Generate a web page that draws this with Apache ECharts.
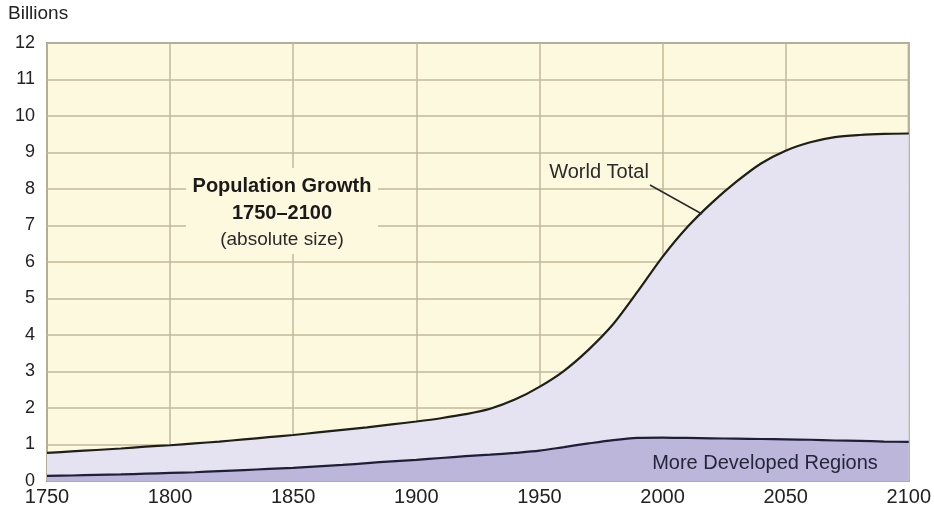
<!DOCTYPE html>
<html>
<head>
<meta charset="utf-8">
<script src="https://cdn.jsdelivr.net/npm/echarts@6/dist/echarts.min.js"></script>
<style>
  html, body { margin: 0; padding: 0; background: #fff; }
  #chart { width: 934px; height: 516px; }
</style>
</head>
<body>
<div id="chart"></div>
<script>
  // population in billions, every 10 years
  var years = [1750, 1760, 1770, 1780, 1790, 1800, 1810, 1820, 1830, 1840, 1850, 1860, 1870, 1880, 1890, 1900, 1910, 1920,
    1930, 1940, 1950, 1960, 1970, 1980, 1990, 2000, 2010, 2020, 2030, 2040, 2050, 2060, 2070, 2080, 2090, 2100]
  var worldTotal = [0.77, 0.81, 0.85, 0.89, 0.94, 0.98, 1.03, 1.08, 1.14, 1.2, 1.26, 1.33, 1.4, 1.47, 1.55, 1.63, 1.72, 1.83,
    1.98, 2.23, 2.58, 3.02, 3.6, 4.3, 5.2, 6.14, 6.95, 7.62, 8.2, 8.7, 9.05, 9.28, 9.42, 9.48, 9.51, 9.52]
  var moreDeveloped = [0.14, 0.15, 0.17, 0.18, 0.2, 0.22, 0.24, 0.27, 0.3, 0.33, 0.36, 0.4, 0.44, 0.49, 0.54, 0.58, 0.63, 0.68,
    0.72, 0.77, 0.83, 0.93, 1.03, 1.12, 1.18, 1.19, 1.18, 1.17, 1.16, 1.15, 1.14, 1.13, 1.11, 1.1, 1.08, 1.07]
  var yTicks = [0, 1, 2, 3, 4, 5, 6, 7, 8, 9, 10, 11, 12]
  var xTicks = [1750, 1800, 1850, 1900, 1950, 2000, 2050, 2100]

  function pairs(xs, ys) {
    var arr = []
    for (var i = 0; i < xs.length; i++) {
      arr.push([xs[i], ys[i]])
    }
    return arr
  }

  var font = '"Liberation Sans", Arial, sans-serif'
  var plotBg = '#fdf9df'
  var chart = echarts.init(document.getElementById('chart'))

  var option = {
    backgroundColor: '#ffffff',
    animation: false,
    textStyle: { fontFamily: font },
    grid: {
      left: 47, right: 25, top: 43, bottom: 35,
      show: true,
      backgroundColor: plotBg,
      borderColor: '#8f8f8f',
      borderWidth: 2
    },
    xAxis: {
      type: 'value',
      min: xTicks[0],
      max: xTicks[xTicks.length - 1],
      interval: 50,
      axisLine: { show: false },
      axisTick: { show: false },
      axisLabel: { color: '#222', fontSize: 20, margin: 6, formatter: function (v) { return String(v) } },
      splitLine: { show: true, lineStyle: { color: '#c2b99a', width: 1.5 } }
    },
    yAxis: {
      type: 'value',
      min: yTicks[0],
      max: yTicks[yTicks.length - 1],
      interval: 1,
      axisLine: { show: false },
      axisTick: { show: false },
      axisLabel: { color: '#222', fontSize: 18, margin: 12 },
      splitLine: { show: true, lineStyle: { color: '#c2b99a', width: 1.5 } }
    },
    series: [
      {
        name: 'World Total',
        type: 'line',
        data: pairs(years, worldTotal),
        smooth: 0.3,
        showSymbol: false,
        lineStyle: { color: '#1e1e1e', width: 2.2 },
        areaStyle: { color: '#e5e3f1', opacity: 1 },
        z: 2
      },
      {
        name: 'More Developed Regions',
        type: 'line',
        data: pairs(years, moreDeveloped),
        smooth: 0.3,
        showSymbol: false,
        lineStyle: { color: '#1e1e3a', width: 2.2 },
        areaStyle: { color: '#bcb6da', opacity: 1 },
        z: 3
      }
    ],
    graphic: [
      { type: 'text', left: 8, top: 4, style: { text: 'Billions', font: '19px ' + font, fill: '#222' } },
      // the title block blanks out the grid behind it
      { type: 'rect', shape: { x: 186, y: 168, width: 192, height: 86 }, style: { fill: plotBg }, z: 5 },
      { type: 'text', x: 282, y: 186, z: 6, style: { text: 'Population Growth', font: 'bold 20px ' + font, fill: '#1a1a1a', align: 'center', verticalAlign: 'middle' } },
      { type: 'text', x: 282, y: 213, z: 6, style: { text: '1750–2100', font: 'bold 20px ' + font, fill: '#1a1a1a', align: 'center', verticalAlign: 'middle' } },
      { type: 'text', x: 282, y: 240, z: 6, style: { text: '(absolute size)', font: '19px ' + font, fill: '#2a2a2a', align: 'center', verticalAlign: 'middle' } },
      { type: 'text', x: 599, y: 172, style: { text: 'World Total', font: '20px ' + font, fill: '#2a2a2a', align: 'center', verticalAlign: 'middle' } },
      { type: 'line', shape: { x1: 650, y1: 185, x2: 702, y2: 214 }, style: { stroke: '#2a2a2a', lineWidth: 1.5 }, z: 10 },
      { type: 'text', x: 805, y: 270, style: { text: 'Less', font: '20px ' + font, fill: '#2a2a2a', align: 'center', verticalAlign: 'middle' } },
      { type: 'text', x: 805, y: 298, style: { text: 'Developed', font: '20px ' + font, fill: '#2a2a2a', align: 'center', verticalAlign: 'middle' } },
      { type: 'text', x: 805, y: 326, style: { text: 'Regions', font: '20px ' + font, fill: '#2a2a2a', align: 'center', verticalAlign: 'middle' } },
      { type: 'text', x: 765, y: 463, z: 10, style: { text: 'More Developed Regions', font: '20px ' + font, fill: '#25253a', align: 'center', verticalAlign: 'middle' } }
    ]
  }

  chart.setOption(option)
</script>
</body>
</html>
